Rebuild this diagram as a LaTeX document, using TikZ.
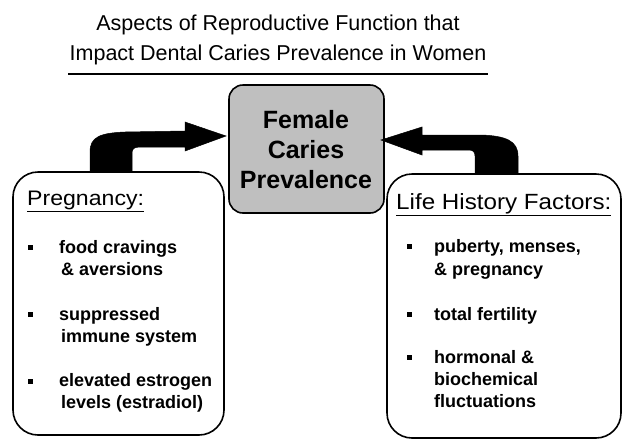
\documentclass[tikz,border=0pt]{standalone}
\usepackage{fontspec}
\setmainfont{Liberation Sans}
\usetikzlibrary{calc}
\begin{document}
\begin{tikzpicture}[x=1pt,y=-1pt,
  box/.style={draw=black, line width=1.6pt, rounded corners=#1, inner sep=0pt},
  itemtxt/.style={anchor=base west, inner sep=0pt, font=\fontsize{18}{22}\selectfont\bfseries},
  headtxt/.style={anchor=base west, inner sep=0pt},
  ctrtxt/.style={anchor=base, inner sep=0pt, font=\fontsize{25}{30}\selectfont\bfseries},
  titletxt/.style={anchor=base, inner sep=0pt, font=\fontsize{21.5}{26}\selectfont},
  bul/.style={fill=black, draw=none, minimum size=5pt, inner sep=0pt},
  blockarrow/.style={fill=black, draw=black, line width=0.5pt}]
\useasboundingbox[fill=white] (0,0) rectangle (623,440);
% title
\node[titletxt] (t1) at (278,30) {Aspects of Reproductive Function that};
\node[titletxt] (t2) at (278,60) {Impact Dental Caries Prevalence in Women};
\coordinate (ul1) at (68,74);
\coordinate (ul2) at (488,74);
\draw[line width=1.4pt] (ul1) -- (ul2);
% boxes
\node[box=14pt, fill=black!25, minimum width=155pt, minimum height=128pt] (fcp) at (306.5,149) {};
\node[box=25pt, minimum width=211pt, minimum height=263pt] (preg) at (118.5,303.5) {};
\node[box=25pt, minimum width=234pt, minimum height=264pt] (life) at (504,306) {};
% center text
\node[ctrtxt] (c1) at (306,128) {Female};
\node[ctrtxt] (c2) at (306,158) {Caries};
\node[ctrtxt] (c3) at (306,188) {Prevalence};
% arrows
\coordinate (ltip) at (226,136);
\coordinate (rtip) at (381,140);
\fill[blockarrow] (90,172) -- (90,152) .. controls (90,137) and (100,133) .. (125,132) -- (185,131) -- (185,122) -- (ltip) -- (185,151) -- (185,147) -- (140,147) .. controls (134,147) and (132,149) .. (132,153) -- (132,172) -- cycle;
\fill[blockarrow] (518,174) -- (518,156) .. controls (518,141) and (506,136) .. (482,135) -- (422,135) -- (422,127) -- (rtip) -- (422,155) -- (422,150) -- (469,150) .. controls (473,150) and (475,152) .. (475,156) -- (475,174) -- cycle;
% left header
\node[headtxt] (ph) at (27,205) {\scalebox{1.1}[1]{\fontsize{21}{25}\selectfont\underline{Pregnancy:}}};
% left items
\node[bul] (b1) at (30,247.5) {};
\node[itemtxt] (p1) at (59,253) {food cravings};
\node[itemtxt] (p1b) at (61,275.5) {\& aversions};
\node[bul] (b2) at (30,314.5) {};
\node[itemtxt] (p2) at (59,320) {suppressed};
\node[itemtxt] (p2b) at (61,342) {immune system};
\node[bul] (b3) at (30,381) {};
\node[itemtxt] (p3) at (59,386.5) {elevated estrogen};
\node[itemtxt] (p3b) at (61,408.5) {levels (estradiol)};
% right header
\node[headtxt] (lh) at (396,209) {\scalebox{1.1}[1]{\fontsize{22}{26}\selectfont\underline{Life History Factors:}}};
% right items
\node[bul] (r1) at (409,246.5) {};
\node[itemtxt] (q1) at (434,252) {puberty, menses,};
\node[itemtxt] (q1b) at (434,275) {\& pregnancy};
\node[bul] (r2) at (409,314.5) {};
\node[itemtxt] (q2) at (434,320) {total fertility};
\node[bul] (r3) at (409,357.5) {};
\node[itemtxt] (q3) at (434,363) {hormonal \&};
\node[itemtxt] (q3b) at (434,385.5) {biochemical};
\node[itemtxt] (q3c) at (434,407.5) {fluctuations};
\end{tikzpicture}
\end{document}
